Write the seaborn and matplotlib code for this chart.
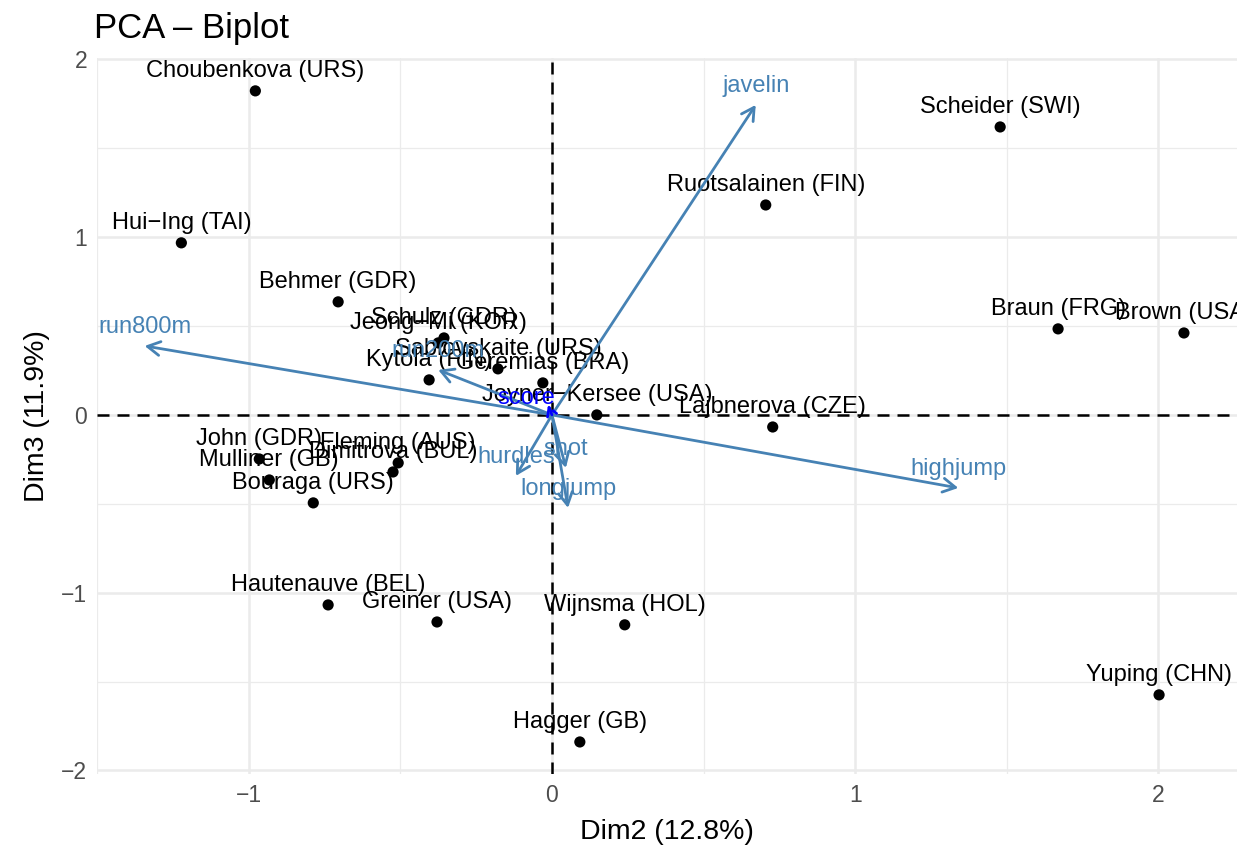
import matplotlib
matplotlib.use("Agg")
import matplotlib.pyplot as plt
import seaborn as sns
import pandas as pd

# individuals (Dim2, Dim3)
names = ["Choubenkova (URS)", "Scheider (SWI)", "Ruotsalainen (FIN)", "Hui\u2212Ing (TAI)",
         "Behmer (GDR)", "Braun (FRG)", "Brown (USA)", "Schulz (GDR)", "Jeong\u2212Mi (KOR)",
         "Sablovskaite (URS)", "Kytola (FIN)", "Geremias (BRA)", "Joyner\u2212Kersee (USA)",
         "Lajbnerova (CZE)", "John (GDR)", "Mulliner (GB)", "Bouraga (URS)", "Fleming (AUS)",
         "Dimitrova (BUL)", "Hautenauve (BEL)", "Greiner (USA)", "Wijnsma (HOL)",
         "Yuping (CHN)", "Hagger (GB)"]
dim2 = [-0.978, 1.478, 0.705, -1.222, -0.705, 1.669, 2.084, -0.356, -0.375,
        -0.178, -0.405, -0.030, 0.148, 0.728, -0.965, -0.932, -0.787, -0.507,
        -0.524, -0.738, -0.379, 0.240, 2.002, 0.092]
dim3 = [1.823, 1.620, 1.181, 0.968, 0.636, 0.484, 0.461, 0.433, 0.405,
        0.259, 0.197, 0.180, 0.000, -0.068, -0.248, -0.366, -0.495, -0.270,
        -0.321, -1.069, -1.165, -1.181, -1.575, -1.840]

# variables
var_names = ["javelin", "run800m", "highjump", "run200m", "hurdles", "shot", "longjump"]
var_x = [0.672, -1.343, 1.340, -0.375, -0.119, 0.046, 0.053]
var_y = [1.744, 0.388, -0.411, 0.253, -0.343, -0.298, -0.523]

# supplementary variable
sup_name = "score"
sup_x, sup_y = -0.013, 0.056
sup_label_x, sup_label_y = -0.086, 0.096

df = pd.DataFrame({"name": names, "Dim2": dim2, "Dim3": dim3})

sns.set_theme(style="white")
plt.rcParams["font.family"] = ["Liberation Sans", "DejaVu Sans"]

fig = plt.figure(figsize=(12.49, 8.49), dpi=100)
ax = fig.add_axes([0.0777, 0.0884, 0.9127, 0.8433])

ax.set_xlim(-1.495, 2.259)
ax.set_ylim(-2.02, 2.008)
ax.set_xticks([-1, 0, 1, 2])
ax.set_yticks([-2, -1, 0, 1, 2])
ax.set_xticks([-1.5, -0.5, 0.5, 1.5], minor=True)
ax.set_yticks([-1.5, -0.5, 0.5, 1.5], minor=True)
ax.set_xticklabels(["\u22121", "0", "1", "2"])
ax.set_yticklabels(["\u22122", "\u22121", "0", "1", "2"])
ax.grid(which="major", color="#EBEBEB", lw=1.8, zorder=0)
ax.grid(which="minor", color="#EBEBEB", lw=0.9, zorder=0)
ax.set_axisbelow(True)
for s in ax.spines.values():
    s.set_visible(False)
ax.tick_params(which="major", length=4, width=1.8, color="#222222",
               labelsize=16.5, labelcolor="#4D4D4D", pad=3)
ax.tick_params(which="minor", length=0)

ax.axhline(0, color="black", lw=1.8, ls=(0, (4.8, 3.2)), zorder=1)
ax.axvline(0, color="black", lw=1.8, ls=(0, (4.8, 3.2)), zorder=1)

sns.scatterplot(data=df, x="Dim2", y="Dim3", color="black", s=65,
                edgecolor="none", ax=ax, zorder=3)

for n, x, y in zip(names, dim2, dim3):
    ax.annotate(n, (x, y), xytext=(0, 14.4), textcoords="offset points",
                ha="center", va="center", fontsize=17, color="black",
                clip_on=True, zorder=4)

for n, x, y in zip(var_names, var_x, var_y):
    ax.annotate("", xy=(x, y), xytext=(0, 0),
                arrowprops=dict(arrowstyle="->,head_length=0.9,head_width=0.5",
                                color="steelblue", lw=2, mutation_scale=10,
                                shrinkA=0, shrinkB=0), zorder=5)
    ax.annotate(n, (x, y), xytext=(0, 13.5), textcoords="offset points",
                ha="center", va="center", fontsize=17, color="steelblue",
                clip_on=True, zorder=6)

ax.annotate("", xy=(sup_x, sup_y), xytext=(0, 0),
            arrowprops=dict(arrowstyle="->,head_length=0.6,head_width=0.35",
                            color="blue", lw=2, ls="--", mutation_scale=10,
                            shrinkA=0, shrinkB=0), zorder=5)
ax.text(sup_label_x, sup_label_y, sup_name, ha="center", va="center",
        fontsize=17, color="blue", zorder=6)

ax.set_xlabel("Dim2 (12.8%)", fontsize=20.5, color="black", labelpad=9)
ax.set_ylabel("Dim3 (11.9%)", fontsize=20.5, color="black", labelpad=8)
fig.text(0.0755, 0.967, "PCA \u2013 Biplot", fontsize=25, color="black",
         ha="left", va="center")

fig.savefig("out.png", dpi=100, facecolor="white")
